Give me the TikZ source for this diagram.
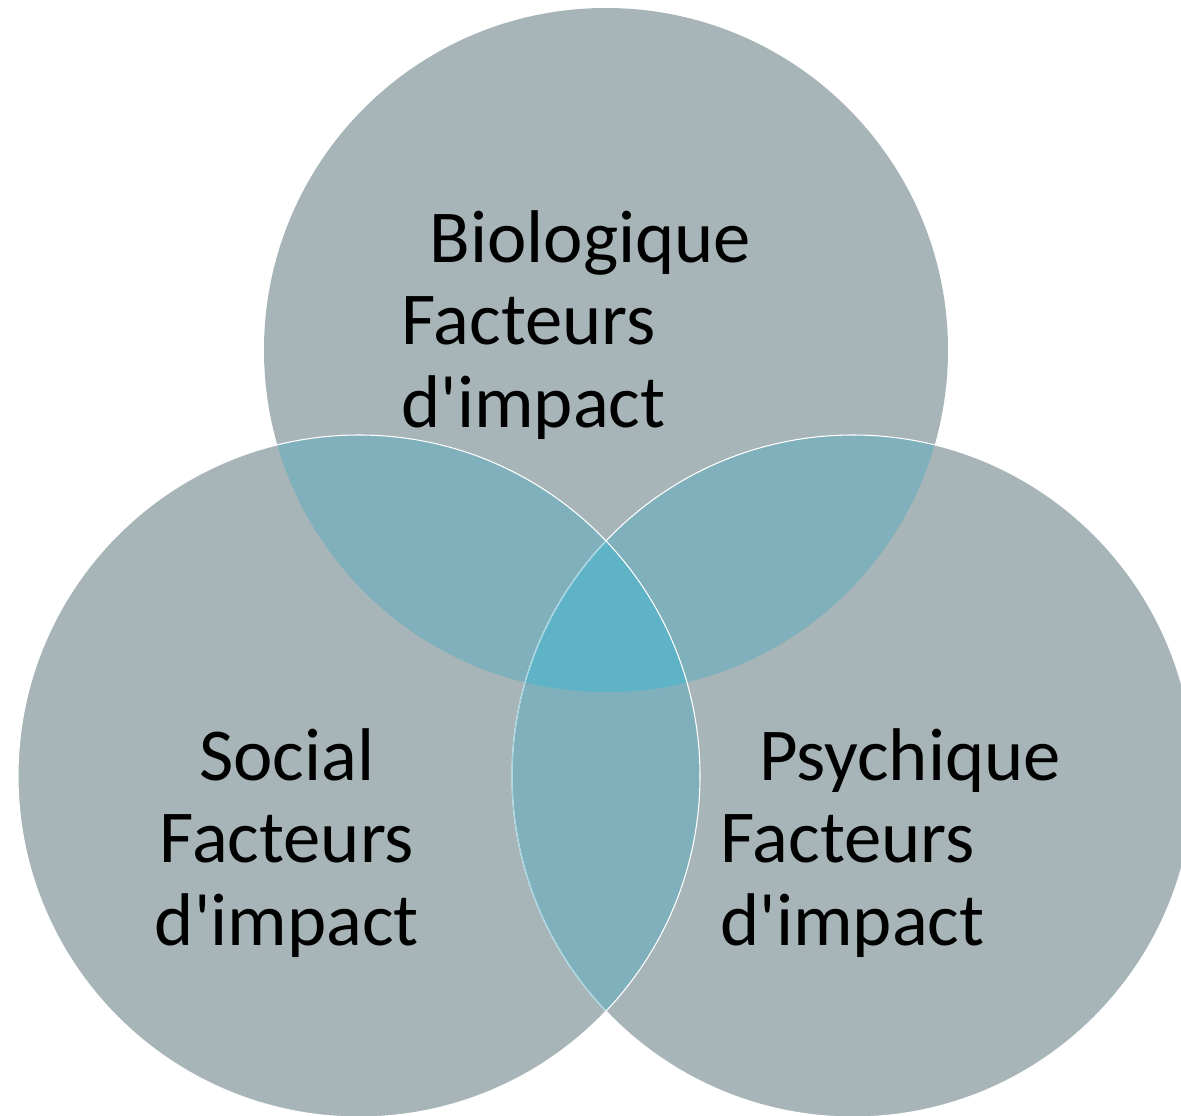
\documentclass[tikz,border=0pt]{standalone}
\usepackage{fontspec}
\newfontfamily\vennfont{Carlito}
\definecolor{venngray}{HTML}{A7B5B8}
\definecolor{vennpair}{HTML}{7FB0BB}
\definecolor{venntriple}{HTML}{5FB3C6}
\definecolor{vennedge}{HTML}{A3D6E2}
\tikzset{
	factor/.style={inner sep=0pt, text=black, font=\vennfont\fontsize{42.5pt}{46.9pt}\selectfont},
	rim/.style={draw=white, line width=0.6pt},
}

\begin{document}
\begin{tikzpicture}[x=0.02cm, y=-0.02cm]
	% Frame and centres:
	\useasboundingbox (0, 0) rectangle (1181, 1116);
	\clip (0, 0) rectangle (1181, 1116);
	\coordinate (B) at (606, 350);
	\coordinate (S) at (359, 776);
	\coordinate (P) at (853, 776);
	% Circles:
	\fill[venngray] (B) circle[radius=342];
	\fill[venngray] (S) circle[radius=341];
	\fill[venngray] (P) circle[radius=341];
	% Overlaps:
	\begin{scope}
		\clip (B) circle[radius=342];
		\fill[vennpair] (S) circle[radius=341];
		\fill[vennpair] (P) circle[radius=341];
	\end{scope}
	\begin{scope}
		\clip (S) circle[radius=341];
		\fill[vennpair] (P) circle[radius=341];
		\clip (B) circle[radius=342];
		\fill[venntriple] (P) circle[radius=341];
	\end{scope}
	% Outlines:
	\draw[rim] (P) circle[radius=341];
	\begin{scope}
		\clip (S) circle[radius=341];
		\draw[rim, draw=vennedge] (P) circle[radius=341];
	\end{scope}
	\draw[rim] (S) circle[radius=341];
	% Labels (base = last line):
	\node[factor, anchor=base west, align=left] (bio) at (401, 427) {\hspace*{0.38em}Biologique\\Facteurs\\d'impact};
	\node[factor, anchor=base, align=center] (soc) at (287, 945) {Social\\Facteurs\\d'impact};
	\node[factor, anchor=base west, align=left] (psy) at (720, 945) {\hspace*{0.52em}Psychique\\Facteurs\\d'impact};
\end{tikzpicture}
\end{document}
